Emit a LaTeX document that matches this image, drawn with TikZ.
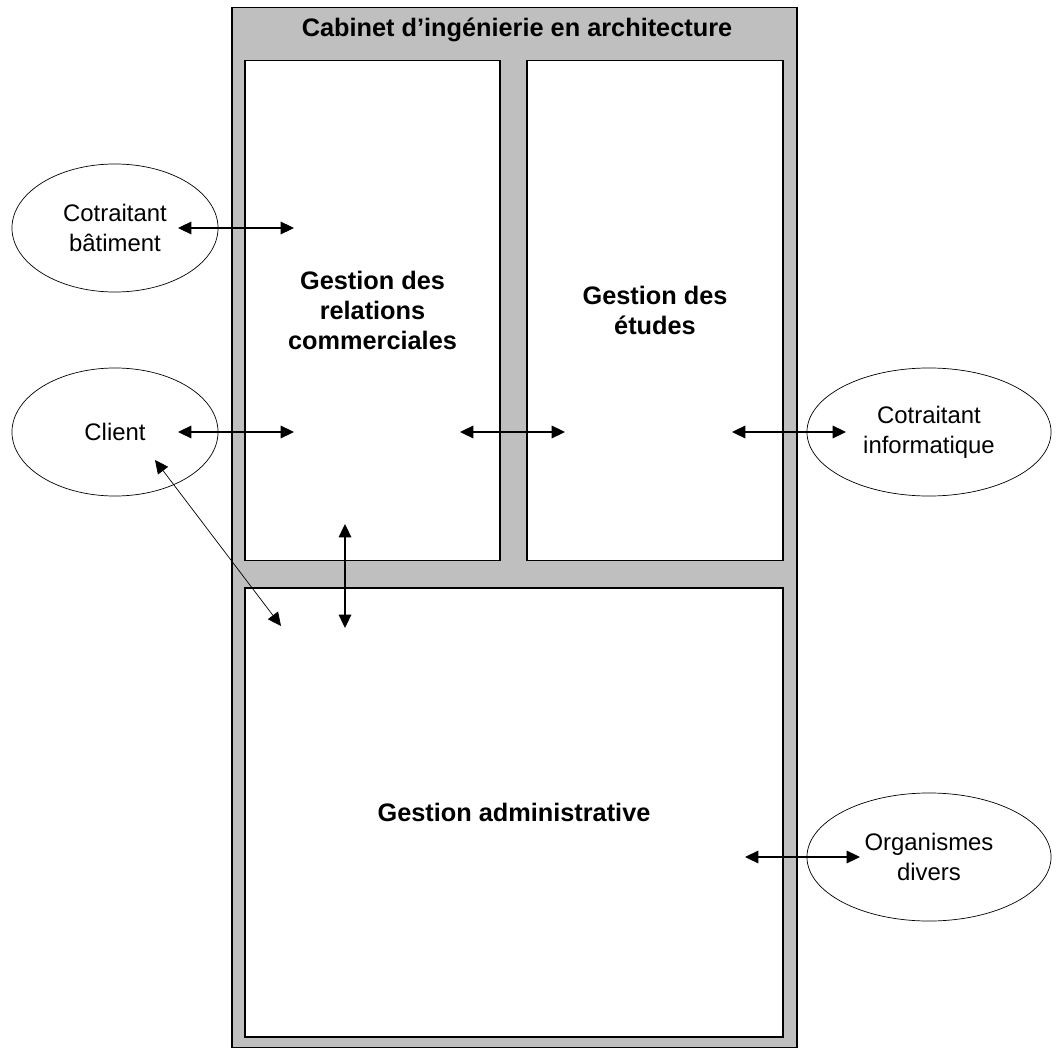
\documentclass[tikz,border=0pt]{standalone}
\usepackage{fontspec}
\setmainfont{Liberation Sans}
\usetikzlibrary{arrows.meta,shapes.geometric,positioning}

\begin{document}
\begin{tikzpicture}[
  x=0.025cm, y=-0.025cm,
  >={Triangle[length=9.5pt,width=9pt]},
  cadre/.style={draw, fill=black!25, line width=0.9pt, inner sep=0pt},
  bloc/.style={draw, fill=white, line width=0.9pt, inner sep=0pt, align=center,
    font=\bfseries\fontsize{18}{21.5}\selectfont},
  acteur/.style={ellipse, draw, line width=0.5pt, inner sep=0pt, align=center,
    minimum width=51.5mm, minimum height=32mm, font=\fontsize{17}{21.5}\selectfont}
]
  \useasboundingbox (0,0) rectangle (1058,1050);

  % cabinet and its three services
  \node[cadre, minimum width=141.25mm, minimum height=259.75mm] (cab) at (514.5,527.5) {};
  \node[font=\bfseries\fontsize{18}{21}\selectfont] (titre) at (517,30) {Cabinet d'ingénierie en architecture};
  \node[bloc, minimum width=63.75mm, minimum height=125mm] (grc) at (372.5,310.5)
    {Gestion des\\relations\\commerciales};
  \node[bloc, minimum width=64mm, minimum height=125mm] (ge) at (655,310.5)
    {Gestion des\\études};
  \node[bloc, minimum width=134.5mm, minimum height=112.25mm] (ga) at (514,812.5)
    {Gestion administrative};

  % partners
  \node[acteur] (bat) at (115,228) {Cotraitant\\bâtiment};
  \node[acteur] (cli) at (115,432) {Client};
  \node[acteur, minimum width=61mm] (info) at (929,432) {Cotraitant\\informatique};
  \node[acteur, minimum width=61mm] (org) at (929,857) {Organismes\\divers};

  % arrow ends
  \coordinate (b1) at (178,228);  \coordinate (b2) at (294,228);
  \coordinate (c1) at (178,432);  \coordinate (c2) at (294,432);
  \coordinate (c3) at (155,460);  \coordinate (c4) at (281,626);
  \coordinate (r1) at (460,432);  \coordinate (r2) at (565,432);
  \coordinate (v1) at (345,524);  \coordinate (v2) at (345,628);
  \coordinate (i1) at (732,432);  \coordinate (i2) at (846,432);
  \coordinate (o1) at (745,857);  \coordinate (o2) at (860,857);

  \draw[<->, line width=0.8pt] (b1) -- (b2);
  \draw[<->, line width=0.8pt] (c1) -- (c2);
  \draw[<->, line width=0.5pt] (c3) -- (c4);
  \draw[<->, line width=0.8pt] (r1) -- (r2);
  \draw[<->, line width=0.8pt] (v1) -- (v2);
  \draw[<->, line width=0.8pt] (i1) -- (i2);
  \draw[<->, line width=0.8pt] (o1) -- (o2);
\end{tikzpicture}
\end{document}
